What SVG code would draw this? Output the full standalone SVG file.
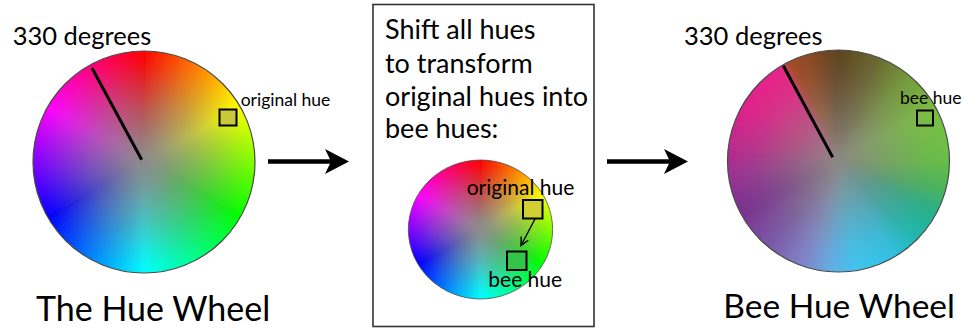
<svg xmlns="http://www.w3.org/2000/svg" xmlns:xlink="http://www.w3.org/1999/xlink" width="964" height="330" viewBox="0 0 964 330">
  <style>
    .txt { font-family: Lato, "Open Sans", "Liberation Sans", sans-serif; fill: #000; }
    .title { font-size: 34px; }
    .title-r { font-size: 33.5px; }
    .deg { font-size: 25.5px; }
    .note { font-size: 27px; }
    .tag { font-size: 17.5px; }
    .tag-mid { font-size: 21px; }
    .pointer { stroke: #000; stroke-width: 3; fill: none; }
    .swatch { stroke: #000; stroke-width: 2; }
    .rim { fill: none; stroke: #4a4a4a; stroke-width: 1.2; }
    .flow { stroke: #000; stroke-width: 4.5; fill: none; }
  </style>
  <defs>
    <!-- one 5-degree slice of a colour disc, pointing up -->
    <path id="w" d="M0 0L-6.11-124.85A125 125 0 0 1 6.11-124.85Z"/>
    <clipPath id="disc"><circle cx="0" cy="0" r="111"/></clipPath>
    <filter id="soft" x="-20%" y="-20%" width="140%" height="140%">
      <feGaussianBlur stdDeviation="3.2"/>
    </filter>
    <radialGradient id="greyCore" cx="0" cy="0" r="111" gradientUnits="userSpaceOnUse">
      <stop offset="0" stop-color="#8a8a8a" stop-opacity="1"/>
      <stop offset="0.2" stop-color="#8a8a8a" stop-opacity="0.85"/>
      <stop offset="0.5" stop-color="#8a8a8a" stop-opacity="0.55"/>
      <stop offset="0.75" stop-color="#8a8a8a" stop-opacity="0.25"/>
      <stop offset="0.92" stop-color="#8a8a8a" stop-opacity="0.06"/>
      <stop offset="1" stop-color="#8a8a8a" stop-opacity="0"/>
    </radialGradient>
    <radialGradient id="greyCoreBee" cx="0" cy="0" r="111" gradientUnits="userSpaceOnUse">
      <stop offset="0" stop-color="#8a8682" stop-opacity="1"/>
      <stop offset="0.2" stop-color="#8a8682" stop-opacity="0.75"/>
      <stop offset="0.5" stop-color="#8a8682" stop-opacity="0.4"/>
      <stop offset="0.75" stop-color="#8a8682" stop-opacity="0.14"/>
      <stop offset="0.92" stop-color="#8a8682" stop-opacity="0.03"/>
      <stop offset="1" stop-color="#8a8682" stop-opacity="0"/>
    </radialGradient>

    <!-- standard hue wheel: red at top, clockwise -->
    <g id="hueDisc">
      <g clip-path="url(#disc)">
        <g filter="url(#soft)">
          <use href="#w" transform="rotate(0)" fill="hsl(0,100%,50%)"/>
          <use href="#w" transform="rotate(5)" fill="hsl(5,100%,50%)"/>
          <use href="#w" transform="rotate(10)" fill="hsl(10,100%,50%)"/>
          <use href="#w" transform="rotate(15)" fill="hsl(15,100%,50%)"/>
          <use href="#w" transform="rotate(20)" fill="hsl(20,100%,50%)"/>
          <use href="#w" transform="rotate(25)" fill="hsl(25,100%,50%)"/>
          <use href="#w" transform="rotate(30)" fill="hsl(30,100%,50%)"/>
          <use href="#w" transform="rotate(35)" fill="hsl(35,100%,50%)"/>
          <use href="#w" transform="rotate(40)" fill="hsl(40,100%,50%)"/>
          <use href="#w" transform="rotate(45)" fill="hsl(45,100%,50%)"/>
          <use href="#w" transform="rotate(50)" fill="hsl(50,100%,50%)"/>
          <use href="#w" transform="rotate(55)" fill="hsl(55,100%,50%)"/>
          <use href="#w" transform="rotate(60)" fill="hsl(60,100%,50%)"/>
          <use href="#w" transform="rotate(65)" fill="hsl(65,100%,50%)"/>
          <use href="#w" transform="rotate(70)" fill="hsl(70,100%,50%)"/>
          <use href="#w" transform="rotate(75)" fill="hsl(75,100%,50%)"/>
          <use href="#w" transform="rotate(80)" fill="hsl(80,100%,50%)"/>
          <use href="#w" transform="rotate(85)" fill="hsl(85,100%,50%)"/>
          <use href="#w" transform="rotate(90)" fill="hsl(90,100%,50%)"/>
          <use href="#w" transform="rotate(95)" fill="hsl(95,100%,50%)"/>
          <use href="#w" transform="rotate(100)" fill="hsl(100,100%,50%)"/>
          <use href="#w" transform="rotate(105)" fill="hsl(105,100%,50%)"/>
          <use href="#w" transform="rotate(110)" fill="hsl(110,100%,50%)"/>
          <use href="#w" transform="rotate(115)" fill="hsl(115,100%,50%)"/>
          <use href="#w" transform="rotate(120)" fill="hsl(120,100%,50%)"/>
          <use href="#w" transform="rotate(125)" fill="hsl(125,100%,50%)"/>
          <use href="#w" transform="rotate(130)" fill="hsl(130,100%,50%)"/>
          <use href="#w" transform="rotate(135)" fill="hsl(135,100%,50%)"/>
          <use href="#w" transform="rotate(140)" fill="hsl(140,100%,50%)"/>
          <use href="#w" transform="rotate(145)" fill="hsl(145,100%,50%)"/>
          <use href="#w" transform="rotate(150)" fill="hsl(150,100%,50%)"/>
          <use href="#w" transform="rotate(155)" fill="hsl(155,100%,50%)"/>
          <use href="#w" transform="rotate(160)" fill="hsl(160,100%,50%)"/>
          <use href="#w" transform="rotate(165)" fill="hsl(165,100%,50%)"/>
          <use href="#w" transform="rotate(170)" fill="hsl(170,100%,50%)"/>
          <use href="#w" transform="rotate(175)" fill="hsl(175,100%,50%)"/>
          <use href="#w" transform="rotate(180)" fill="hsl(180,100%,50%)"/>
          <use href="#w" transform="rotate(185)" fill="hsl(185,100%,50%)"/>
          <use href="#w" transform="rotate(190)" fill="hsl(190,100%,50%)"/>
          <use href="#w" transform="rotate(195)" fill="hsl(195,100%,50%)"/>
          <use href="#w" transform="rotate(200)" fill="hsl(200,100%,50%)"/>
          <use href="#w" transform="rotate(205)" fill="hsl(205,100%,50%)"/>
          <use href="#w" transform="rotate(210)" fill="hsl(210,100%,50%)"/>
          <use href="#w" transform="rotate(215)" fill="hsl(215,100%,50%)"/>
          <use href="#w" transform="rotate(220)" fill="hsl(220,100%,50%)"/>
          <use href="#w" transform="rotate(225)" fill="hsl(225,100%,50%)"/>
          <use href="#w" transform="rotate(230)" fill="hsl(230,100%,50%)"/>
          <use href="#w" transform="rotate(235)" fill="hsl(235,100%,50%)"/>
          <use href="#w" transform="rotate(240)" fill="hsl(240,100%,50%)"/>
          <use href="#w" transform="rotate(245)" fill="hsl(245,100%,50%)"/>
          <use href="#w" transform="rotate(250)" fill="hsl(250,100%,50%)"/>
          <use href="#w" transform="rotate(255)" fill="hsl(255,100%,50%)"/>
          <use href="#w" transform="rotate(260)" fill="hsl(260,100%,50%)"/>
          <use href="#w" transform="rotate(265)" fill="hsl(265,100%,50%)"/>
          <use href="#w" transform="rotate(270)" fill="hsl(270,100%,50%)"/>
          <use href="#w" transform="rotate(275)" fill="hsl(275,100%,50%)"/>
          <use href="#w" transform="rotate(280)" fill="hsl(280,100%,50%)"/>
          <use href="#w" transform="rotate(285)" fill="hsl(285,100%,50%)"/>
          <use href="#w" transform="rotate(290)" fill="hsl(290,100%,50%)"/>
          <use href="#w" transform="rotate(295)" fill="hsl(295,100%,50%)"/>
          <use href="#w" transform="rotate(300)" fill="hsl(300,100%,50%)"/>
          <use href="#w" transform="rotate(305)" fill="hsl(305,100%,50%)"/>
          <use href="#w" transform="rotate(310)" fill="hsl(310,100%,50%)"/>
          <use href="#w" transform="rotate(315)" fill="hsl(315,100%,50%)"/>
          <use href="#w" transform="rotate(320)" fill="hsl(320,100%,50%)"/>
          <use href="#w" transform="rotate(325)" fill="hsl(325,100%,50%)"/>
          <use href="#w" transform="rotate(330)" fill="hsl(330,100%,50%)"/>
          <use href="#w" transform="rotate(335)" fill="hsl(335,100%,50%)"/>
          <use href="#w" transform="rotate(340)" fill="hsl(340,100%,50%)"/>
          <use href="#w" transform="rotate(345)" fill="hsl(345,100%,50%)"/>
          <use href="#w" transform="rotate(350)" fill="hsl(350,100%,50%)"/>
          <use href="#w" transform="rotate(355)" fill="hsl(355,100%,50%)"/>
        </g>
      </g>
      <circle r="111" fill="url(#greyCore)"/>
      <circle r="111" class="rim"/>
    </g>

    <!-- hues as seen by a bee, with the break at 330 degrees -->
    <g id="beeDisc">
      <g clip-path="url(#disc)">
        <g filter="url(#soft)">
          <use href="#w" transform="rotate(0)" fill="#5c4420"/>
          <use href="#w" transform="rotate(5)" fill="#604c24"/>
          <use href="#w" transform="rotate(10)" fill="#635428"/>
          <use href="#w" transform="rotate(15)" fill="#675c2c"/>
          <use href="#w" transform="rotate(20)" fill="#6a6430"/>
          <use href="#w" transform="rotate(25)" fill="#6d7233"/>
          <use href="#w" transform="rotate(30)" fill="#6f7f35"/>
          <use href="#w" transform="rotate(35)" fill="#728d38"/>
          <use href="#w" transform="rotate(40)" fill="#749a3a"/>
          <use href="#w" transform="rotate(45)" fill="#75a33c"/>
          <use href="#w" transform="rotate(50)" fill="#77ab3e"/>
          <use href="#w" transform="rotate(55)" fill="#78b440"/>
          <use href="#w" transform="rotate(60)" fill="#7abd42"/>
          <use href="#w" transform="rotate(65)" fill="#78c043"/>
          <use href="#w" transform="rotate(70)" fill="#75c044"/>
          <use href="#w" transform="rotate(75)" fill="#72c044"/>
          <use href="#w" transform="rotate(80)" fill="#6fbf44"/>
          <use href="#w" transform="rotate(85)" fill="#6cbf45"/>
          <use href="#w" transform="rotate(90)" fill="#66be48"/>
          <use href="#w" transform="rotate(95)" fill="#5dbb4e"/>
          <use href="#w" transform="rotate(100)" fill="#53b854"/>
          <use href="#w" transform="rotate(105)" fill="#4ab55a"/>
          <use href="#w" transform="rotate(110)" fill="#3cb36c"/>
          <use href="#w" transform="rotate(115)" fill="#2eb17d"/>
          <use href="#w" transform="rotate(120)" fill="#26b18c"/>
          <use href="#w" transform="rotate(125)" fill="#24b398"/>
          <use href="#w" transform="rotate(130)" fill="#23b5a3"/>
          <use href="#w" transform="rotate(135)" fill="#22b8ae"/>
          <use href="#w" transform="rotate(140)" fill="#26babe"/>
          <use href="#w" transform="rotate(145)" fill="#2bbdcf"/>
          <use href="#w" transform="rotate(150)" fill="#30c0e0"/>
          <use href="#w" transform="rotate(155)" fill="#34c1e4"/>
          <use href="#w" transform="rotate(160)" fill="#37c2e7"/>
          <use href="#w" transform="rotate(165)" fill="#3bc3eb"/>
          <use href="#w" transform="rotate(170)" fill="#3fc4ef"/>
          <use href="#w" transform="rotate(175)" fill="#48beed"/>
          <use href="#w" transform="rotate(180)" fill="#56b5e8"/>
          <use href="#w" transform="rotate(185)" fill="#64ace2"/>
          <use href="#w" transform="rotate(190)" fill="#6f9fdb"/>
          <use href="#w" transform="rotate(195)" fill="#7791d2"/>
          <use href="#w" transform="rotate(200)" fill="#7e83ca"/>
          <use href="#w" transform="rotate(205)" fill="#7f78c1"/>
          <use href="#w" transform="rotate(210)" fill="#7d6db8"/>
          <use href="#w" transform="rotate(215)" fill="#7b62af"/>
          <use href="#w" transform="rotate(220)" fill="#7a58a7"/>
          <use href="#w" transform="rotate(225)" fill="#7a50a2"/>
          <use href="#w" transform="rotate(230)" fill="#7a479d"/>
          <use href="#w" transform="rotate(235)" fill="#7a3e98"/>
          <use href="#w" transform="rotate(240)" fill="#7a3593"/>
          <use href="#w" transform="rotate(245)" fill="#7d3090"/>
          <use href="#w" transform="rotate(250)" fill="#853090"/>
          <use href="#w" transform="rotate(255)" fill="#8d3090"/>
          <use href="#w" transform="rotate(260)" fill="#963090"/>
          <use href="#w" transform="rotate(265)" fill="#9e3090"/>
          <use href="#w" transform="rotate(270)" fill="#aa2e8f"/>
          <use href="#w" transform="rotate(275)" fill="#b52c8d"/>
          <use href="#w" transform="rotate(280)" fill="#c02a8c"/>
          <use href="#w" transform="rotate(285)" fill="#c8288c"/>
          <use href="#w" transform="rotate(290)" fill="#cf258b"/>
          <use href="#w" transform="rotate(295)" fill="#d7238b"/>
          <use href="#w" transform="rotate(300)" fill="#df218a"/>
          <use href="#w" transform="rotate(305)" fill="#e2208a"/>
          <use href="#w" transform="rotate(310)" fill="#e32089"/>
          <use href="#w" transform="rotate(315)" fill="#e52089"/>
          <use href="#w" transform="rotate(320)" fill="#e72088"/>
          <use href="#w" transform="rotate(325)" fill="#e82088"/>
          <use href="#w" transform="rotate(330)" fill="#e82088"/>
          <use href="#w" transform="rotate(332.8)" fill="#b04a2a"/>
          <use href="#w" transform="rotate(335)" fill="#a44928"/>
          <use href="#w" transform="rotate(340)" fill="#984926"/>
          <use href="#w" transform="rotate(345)" fill="#8c4824"/>
          <use href="#w" transform="rotate(350)" fill="#7c4723"/>
          <use href="#w" transform="rotate(355)" fill="#6c4521"/>
        </g>
      </g>
      <circle r="111" fill="url(#greyCoreBee)"/>
      <circle r="111" class="rim" stroke="#3f4a3a"/>
    </g>

    <marker id="head" markerUnits="userSpaceOnUse" markerWidth="26" markerHeight="27" viewBox="0 0 26 27" refX="16" refY="13.5" orient="auto" overflow="visible">
      <path d="M1 1L25 13.5L1 26L7 13.5Z" fill="#000"/>
    </marker>
    <marker id="vee" markerUnits="userSpaceOnUse" markerWidth="10" markerHeight="10" viewBox="0 0 10 10" refX="9" refY="5" orient="auto" overflow="visible">
      <path d="M1 1L9 5L1 9" fill="none" stroke="#000" stroke-width="1.4"/>
    </marker>
  </defs>

  <rect width="964" height="330" fill="#fff"/>

  <!-- left: the ordinary hue wheel -->
  <g id="hue-wheel">
    <use href="#hueDisc" transform="translate(144,162)"/>
    <line class="pointer" x1="92" y1="68" x2="141.7" y2="159.7"/>
    <rect class="swatch" x="219.5" y="109.5" width="17" height="16" fill="#c9c83c"/>
    <text class="txt deg" x="12.7" y="45">330 degrees</text>
    <text class="txt tag" x="240.7" y="106">original hue</text>
    <text class="txt title" x="36" y="320.7">The Hue Wheel</text>
  </g>

  <!-- middle: explanation panel -->
  <g id="shift-panel">
    <rect x="373" y="4.5" width="221" height="322" fill="#fff" stroke="#333" stroke-width="1.6"/>
    <text class="txt note" x="385" y="39.3">Shift all hues</text>
    <text class="txt note" x="385" y="73.3">to transform</text>
    <text class="txt note" x="385" y="106">original hues into</text>
    <text class="txt note" x="385" y="138.3">bee hues:</text>
    <use href="#hueDisc" transform="translate(480.5,229.5) scale(0.65,0.626)"/>
    <rect class="swatch" x="523" y="200" width="19.5" height="18.5" fill="#d2cf32"/>
    <rect class="swatch" x="507" y="251.5" width="19.5" height="18.5" fill="#33c44a"/>
    <line x1="535" y1="219" x2="521" y2="245.5" stroke="#000" stroke-width="1.4" marker-end="url(#vee)"/>
    <text class="txt tag-mid" x="466.7" y="195">original hue</text>
    <text class="txt tag-mid" x="488.3" y="287.3">bee hue</text>
  </g>

  <!-- right: the bee hue wheel -->
  <g id="bee-wheel">
    <use href="#beeDisc" transform="translate(838.5,161)"/>
    <line class="pointer" x1="783.3" y1="65.7" x2="832.7" y2="157.3"/>
    <rect class="swatch" x="917" y="110.5" width="16" height="15" fill="none"/>
    <text class="txt deg" x="684" y="45">330 degrees</text>
    <text class="txt tag" x="900" y="104">bee hue</text>
    <text class="txt title-r" x="723.3" y="318.3">Bee Hue Wheel</text>
  </g>

  <!-- flow arrows between the panels -->
  <g id="connectors">
    <line class="flow" x1="268" y1="161.5" x2="340" y2="161.5" marker-end="url(#head)"/>
    <line class="flow" x1="607" y1="161.5" x2="679" y2="161.5" marker-end="url(#head)"/>
  </g>
</svg>
